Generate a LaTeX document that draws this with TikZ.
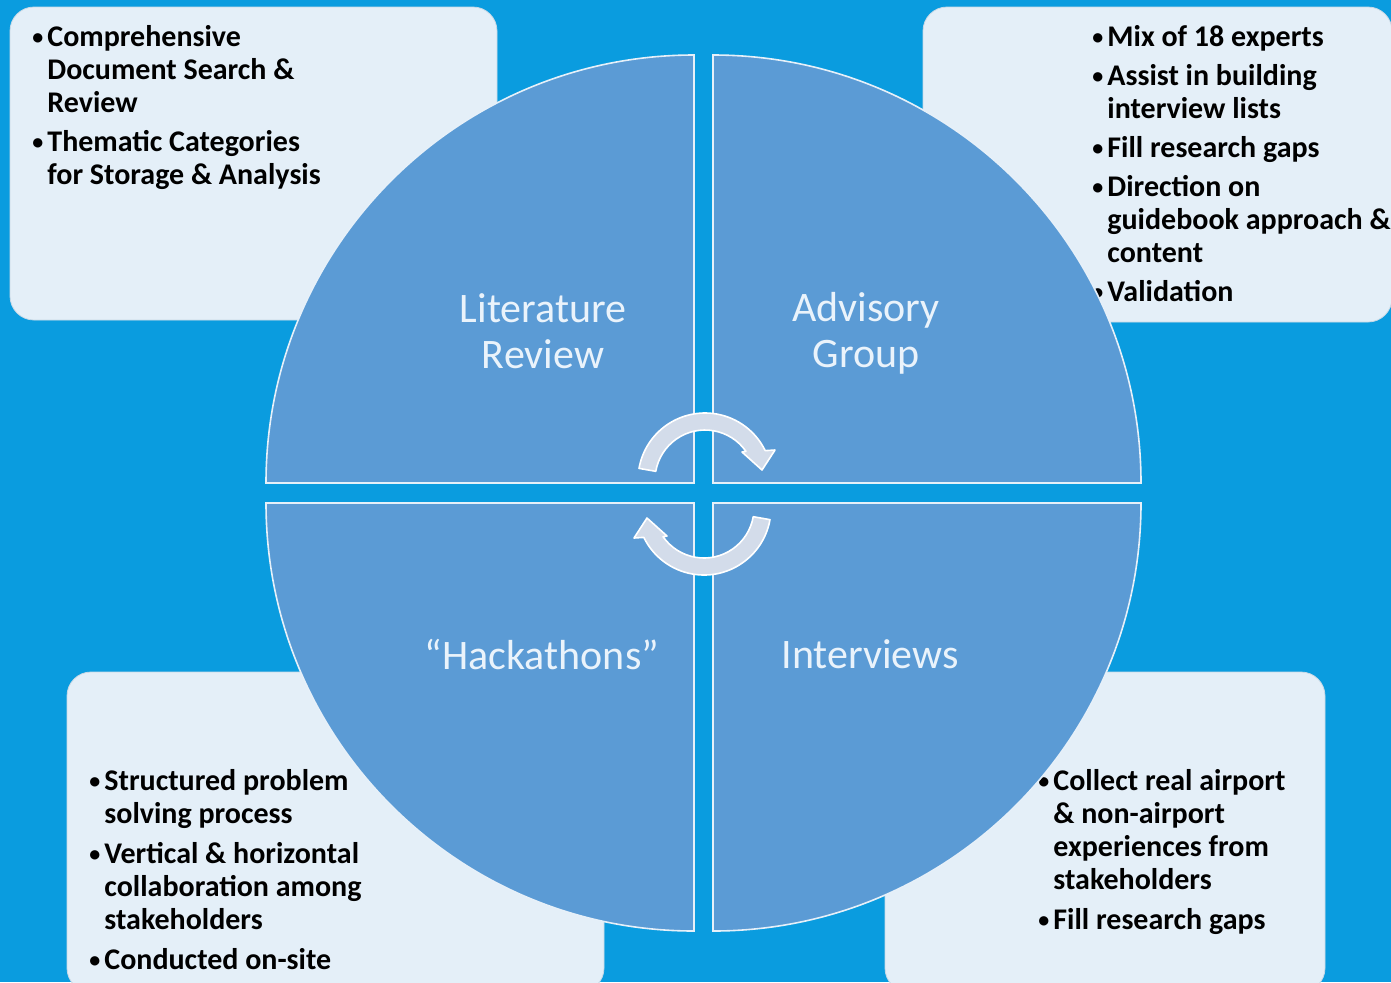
\documentclass[tikz,border=0pt]{standalone}
\usepackage{fontspec}
\setmainfont{Carlito}
\definecolor{bgblue}{HTML}{0A9CDF}
\definecolor{boxfill}{HTML}{E4EFF8}
\definecolor{boxline}{HTML}{C9D9E6}
\definecolor{quadfill}{HTML}{5B9BD5}
\definecolor{quadline}{HTML}{E6F0F9}
\definecolor{labeltext}{HTML}{EAF3FB}
\definecolor{arrowfill}{HTML}{D3DCEA}
\newcommand\bul{\makebox[8pt][l]{\hspace*{0.5pt}\raisebox{0.8pt}{\fontsize{11}{11}\selectfont •}}}
\newcommand\ind{\hspace*{8pt}}
\tikzset{
  infobox/.style={fill=boxfill, draw=boxline, line width=0.4pt, rounded corners=12pt},
  bullets/.style={font=\bfseries\fontsize{15}{16.5}\selectfont, anchor=base west, inner sep=0pt, text=black},
  quad/.style={fill=quadfill, draw=quadline, line width=0.8pt},
  qlabel/.style={font=\fontsize{21}{23}\selectfont, text=labeltext, align=center, inner sep=0pt},
  cycarrow/.style={fill=arrowfill, draw=white, line width=0.8pt, line join=round}
}
\begin{document}
\begin{tikzpicture}[x=0.5pt,y=-0.5pt]
\useasboundingbox (0,0) rectangle (1391,982);
\fill[bgblue] (0,0) rectangle (1391,982);
% info boxes
\path[infobox] (10,7) rectangle (497,320);
\path[infobox] (923,7) rectangle (1392,322);
\path[infobox] (67,672) rectangle (604,992);
\path[infobox] (885,672) rectangle (1325,992);
% bullet texts
\node[bullets] (tltext) at (31,46) {\begin{tabular}[t]{@{}l@{}}\bul Comprehensive\\ \ind Document Search \&\\ \ind Review\\[3pt]
\bul Thematic Categories\\ \ind for Storage \& Analysis\end{tabular}};
\node[bullets] (trtext) at (1091,46) {\begin{tabular}[t]{@{}l@{}}\bul Mix of 18 experts\\[3pt]
\bul Assist in building\\ \ind interview lists\\[3pt]
\bul Fill research gaps\\[3pt]
\bul Direction on\\ \ind guidebook approach \&\\ \ind content\\[3pt]
\bul Validation\end{tabular}};
\node[bullets] (bltext) at (88,790) {\begin{tabular}[t]{@{}l@{}}\bul Structured problem\\ \ind solving process\\[3.5pt]
\bul Vertical \& horizontal\\ \ind collaboration among\\ \ind stakeholders\\[3.5pt]
\bul Conducted on-site\end{tabular}};
\node[bullets] (brtext) at (1037,790) {\begin{tabular}[t]{@{}l@{}}\bul Collect real airport\\ \ind \& non-airport\\ \ind experiences from\\ \ind stakeholders\\[3.5pt]
\bul Fill research gaps\end{tabular}};
% quadrants
\path[quad] (694,483) -- (266,483) arc[start angle=180,end angle=270,radius=428] -- cycle;
\path[quad] (713,483) -- (713,55) arc[start angle=270,end angle=360,radius=428] -- cycle;
\path[quad] (694,503) -- (266,503) arc[start angle=180,end angle=90,radius=428] -- cycle;
\path[quad] (713,503) -- (1141,503) arc[start angle=0,end angle=90,radius=428] -- cycle;
% labels
\node[qlabel] (lit) at (543,331) {Literature\\Review};
\node[qlabel] (adv) at (866,333) {Advisory\\Group};
\node[qlabel] (hack) at (542,654) {“Hackathons”};
\node[qlabel] (intv) at (870,654) {Interviews};
% cycle arrows
\begin{scope}[shift={(705,480)}]
\path[cycarrow] (190:67) arc[start angle=190,end angle=334,radius=67] -- (70,-30) -- (57,-10) -- (37,-28) -- (325:50) arc[start angle=325,end angle=190,radius=50] -- cycle;
\end{scope}
\begin{scope}[shift={(704,508)},rotate=180]
\path[cycarrow] (190:67) arc[start angle=190,end angle=334,radius=67] -- (70,-30) -- (57,-10) -- (37,-28) -- (325:50) arc[start angle=325,end angle=190,radius=50] -- cycle;
\end{scope}
\end{tikzpicture}
\end{document}
